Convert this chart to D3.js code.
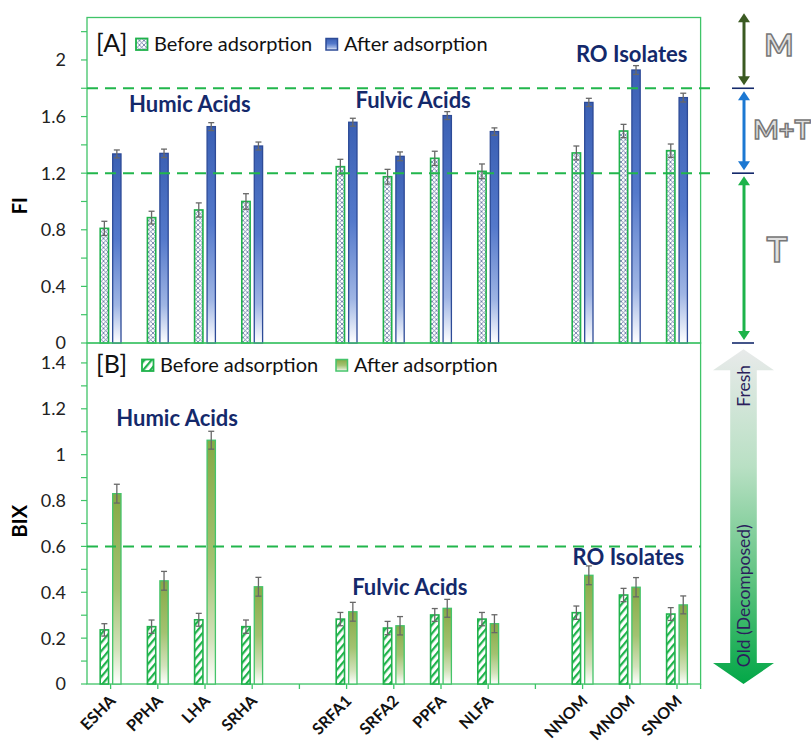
<!DOCTYPE html>
<html>
<head>
<meta charset="utf-8">
<script src="https://cdn.jsdelivr.net/npm/d3@7"></script>
<style>
  body { margin: 0; background: #fff; }
  svg { display: block; font-family: Lato, "Open Sans", sans-serif; }
</style>
</head>
<body>
<svg id="chart" width="811" height="746"></svg>
<script>
// Sample slots along the shared x axis (null = spacer between sample groups)
const categories = ["ESHA", "PPHA", "LHA", "SRHA", null, "SRFA1", "SRFA2", "PPFA", "NLFA", null, "NNOM", "MNOM", "SNOM"];

// Fluorescence index (FI)
const fiBefore    = [0.81, 0.886, 0.94, 1.00, null, 1.246, 1.175, 1.305, 1.213, null, 1.343, 1.498, 1.359];
const fiBeforeErr = [0.05, 0.045, 0.05, 0.055, null, 0.052, 0.052, 0.05, 0.052, null, 0.049, 0.047, 0.047];
const fiAfter     = [1.336, 1.34, 1.529, 1.392, null, 1.56, 1.319, 1.607, 1.494, null, 1.70, 1.929, 1.734];
const fiAfterErr  = [0.028, 0.03, 0.028, 0.028, null, 0.028, 0.031, 0.028, 0.026, null, 0.029, 0.031, 0.031];

// Biological index (BIX)
const bixBefore    = [0.236, 0.25, 0.28, 0.25, null, 0.283, 0.244, 0.301, 0.283, null, 0.311, 0.388, 0.305];
const bixBeforeErr = [0.027, 0.029, 0.028, 0.029, null, 0.029, 0.029, 0.028, 0.029, null, 0.029, 0.029, 0.028];
const bixAfter     = [0.83, 0.45, 1.063, 0.424, null, 0.315, 0.254, 0.33, 0.263, null, 0.474, 0.422, 0.345];
const bixAfterErr  = [0.041, 0.041, 0.039, 0.041, null, 0.041, 0.04, 0.039, 0.039, null, 0.041, 0.042, 0.039];

const fiTicks = [0, 0.4, 0.8, 1.2, 1.6, 2];
const fiMinorTicks = [0.2, 0.6, 1.0, 1.4, 1.8, 2.2];
const bixTicks = [0, 0.2, 0.4, 0.6, 0.8, 1, 1.2, 1.4];
const bixMinorTicks = [0.1, 0.3, 0.5, 0.7, 0.9, 1.1, 1.3];

const fiThresholds = [1.2, 1.8];
const bixThresholds = [0.6];
const groupNames = ["Humic Acids", "Fulvic Acids", "RO Isolates"];
const seriesLabels = ["Before adsorption", "After adsorption"];
const fiZones = ["M", "M+T", "T"];
const bixTrend = ["Fresh", "Old (Decomposed)"];

const svg = d3.select("#chart");
const frameColor = "#3fc468";
const hatchGreen = "#1fb24b";
const navy = "#14296b";
const errColor = "#686868";

const left = 87, right = 700.6;
const x = d3.scaleBand().domain(d3.range(categories.length)).range([left, right]);
const xs = d3.scaleBand().domain(["before", "after"]).range([-10.4, 10.4]).paddingInner(0.333);
const xc = i => left + x.step() * (i + 0.5);

const yFI = d3.scaleLinear().domain([0, 2.3]).range([343, 17.5]);
const yBIX = d3.scaleLinear().domain([0, 1.5]).range([684, 340]);

// ---------- defs: patterns & gradients ----------
const defs = svg.append("defs");

const xh = defs.append("pattern").attr("id", "xhatch")
  .attr("width", 4.5).attr("height", 4.5).attr("patternUnits", "userSpaceOnUse");
xh.append("rect").attr("width", 4.5).attr("height", 4.5).attr("fill", "#fff");
xh.append("path").attr("d", "M0,0L4.5,4.5M4.5,0L0,4.5")
  .attr("stroke", "#56679a").attr("stroke-width", 0.75);

const dg = defs.append("pattern").attr("id", "diag")
  .attr("width", 5.5).attr("height", 5.5).attr("patternUnits", "userSpaceOnUse")
  .attr("patternTransform", "rotate(40)");
dg.append("rect").attr("width", 5.5).attr("height", 5.5).attr("fill", "#fff");
dg.append("rect").attr("width", 2.2).attr("height", 5.5).attr("fill", hatchGreen);

function vGrad(id, stops) {
  const g = defs.append("linearGradient").attr("id", id)
    .attr("x1", 0).attr("y1", 0).attr("x2", 0).attr("y2", 1);
  stops.forEach(([o, c]) => g.append("stop").attr("offset", o).attr("stop-color", c));
}
vGrad("blueGrad", [[0, "#3b60b4"], [0.45, "#5479cb"], [0.8, "#9fb5e4"], [1, "#ffffff"]]);
vGrad("greenGrad", [[0, "#86a946"], [0.5, "#a3c271"], [0.82, "#d3e2bb"], [1, "#ffffff"]]);
vGrad("trendGrad", [[0, "#e8eaea"], [0.35, "#b9e0c4"], [0.7, "#5cc27e"], [1, "#03a747"]]);

// ---------- panels ----------
function panel(cfg) {
  const { y, before, beforeErr, after, afterErr, ticks, minor, bottom, top,
          beforeFill, beforeStroke, afterFill, afterStroke, thresholds, dashEnd } = cfg;
  const g = svg.append("g");

  // frame
  g.append("rect").attr("x", left).attr("y", top).attr("width", right - left).attr("height", bottom - top)
    .attr("fill", "none").attr("stroke", frameColor).attr("stroke-width", 1.3);

  // y ticks
  g.selectAll(".tk").data(ticks.concat(minor)).join("line")
    .attr("x1", left - 6).attr("x2", left).attr("y1", d => y(d)).attr("y2", d => y(d))
    .attr("stroke", frameColor).attr("stroke-width", 1.2);
  g.selectAll(".tl").data(ticks).join("text")
    .attr("x", left - 21).attr("y", d => y(d)).attr("dy", "0.36em")
    .attr("text-anchor", "end").attr("font-size", 18).attr("fill", "#222")
    .text(d => d3.format("~g")(d));

  const idx = d3.range(categories.length).filter(i => categories[i] !== null);

  // bars
  g.selectAll(".bb").data(idx).join("rect")
    .attr("x", i => xc(i) + xs("before")).attr("width", xs.bandwidth())
    .attr("y", i => y(before[i])).attr("height", i => y(0) - y(before[i]))
    .attr("fill", beforeFill).attr("stroke", beforeStroke).attr("stroke-width", 1.6);
  g.selectAll(".ab").data(idx).join("rect")
    .attr("x", i => xc(i) + xs("after")).attr("width", xs.bandwidth())
    .attr("y", i => y(after[i])).attr("height", i => y(0) - y(after[i]))
    .attr("fill", afterFill).attr("stroke", afterStroke).attr("stroke-width", 1.3);

  // error bars
  const errs = [];
  idx.forEach(i => {
    errs.push({ cx: xc(i) + xs("before") + xs.bandwidth() / 2, v: before[i], e: beforeErr[i] });
    errs.push({ cx: xc(i) + xs("after") + xs.bandwidth() / 2, v: after[i], e: afterErr[i] });
  });
  const eg = g.selectAll(".eb").data(errs).join("g").attr("stroke", errColor).attr("stroke-width", 1.3);
  eg.append("line").attr("x1", d => d.cx).attr("x2", d => d.cx)
    .attr("y1", d => y(d.v - d.e)).attr("y2", d => y(d.v + d.e));
  eg.append("line").attr("x1", d => d.cx - 3).attr("x2", d => d.cx + 3)
    .attr("y1", d => y(d.v + d.e)).attr("y2", d => y(d.v + d.e));
  eg.append("line").attr("x1", d => d.cx - 3).attr("x2", d => d.cx + 3)
    .attr("y1", d => y(d.v - d.e)).attr("y2", d => y(d.v - d.e));

  // threshold lines
  g.selectAll(".th").data(thresholds).join("line")
    .attr("x1", left).attr("x2", dashEnd).attr("y1", d => y(d)).attr("y2", d => y(d))
    .attr("stroke", "#22b64c").attr("stroke-width", 2).attr("stroke-dasharray", "11,7");
  return g;
}

panel({
  y: yFI, before: fiBefore, beforeErr: fiBeforeErr, after: fiAfter, afterErr: fiAfterErr,
  ticks: fiTicks, minor: fiMinorTicks, top: yFI(2.3), bottom: yFI(0),
  beforeFill: "url(#xhatch)", beforeStroke: hatchGreen,
  afterFill: "url(#blueGrad)", afterStroke: "#2d4b97",
  thresholds: fiThresholds, dashEnd: 714
});
const gB = panel({
  y: yBIX, before: bixBefore, beforeErr: bixBeforeErr, after: bixAfter, afterErr: bixAfterErr,
  ticks: bixTicks, minor: bixMinorTicks, top: yFI(0), bottom: yBIX(0),
  beforeFill: "url(#diag)", beforeStroke: hatchGreen,
  afterFill: "url(#greenGrad)", afterStroke: "#45c46a",
  thresholds: bixThresholds, dashEnd: right
});

// bottom x axis ticks at category centres
const xTickIdx = d3.range(categories.length);
gB.selectAll(".xt").data(xTickIdx).join("line")
  .attr("x1", i => xc(i)).attr("x2", i => xc(i)).attr("y1", yBIX(0)).attr("y2", yBIX(0) + 5)
  .attr("stroke", frameColor).attr("stroke-width", 1.3);
gB.append("line").attr("x1", right).attr("x2", right).attr("y1", yBIX(0)).attr("y2", yBIX(0) + 5)
  .attr("stroke", frameColor).attr("stroke-width", 1.3);

// category labels
svg.selectAll(".xl").data(xTickIdx.filter(i => categories[i] !== null)).join("text")
  .attr("transform", i => `translate(${xc(i) + 6},${yBIX(0) + 18}) rotate(-45)`)
  .attr("text-anchor", "end").attr("font-size", 16).attr("font-weight", 700).attr("fill", "#111")
  .text(i => categories[i]);

// axis titles
svg.append("text").attr("transform", `translate(27,${yFI(0.97)}) rotate(-90)`)
  .attr("text-anchor", "middle").attr("font-size", 20).attr("font-weight", 700).text("FI");
svg.append("text").attr("transform", `translate(27,${yBIX(0.71)}) rotate(-90)`)
  .attr("text-anchor", "middle").attr("font-size", 20).attr("font-weight", 700).text("BIX");

// group labels
const fiGroupPos = [[1.68, 1.632], [6.41, 1.661], [11.04, 1.988]];
const bixGroupPos = [[1.41, 1.123], [6.34, 0.388], [10.97, 0.519]];
function groupLabels(pos, y) {
  svg.append("g").selectAll("text").data(groupNames).join("text")
    .attr("x", (d, k) => xc(pos[k][0])).attr("y", (d, k) => y(pos[k][1]))
    .attr("text-anchor", "middle").attr("font-size", 22).attr("font-weight", 700).attr("fill", navy)
    .text(d => d);
}
groupLabels(fiGroupPos, yFI);
groupLabels(bixGroupPos, yBIX);

// legends
function legend(tag, ty, beforeFill, beforeStroke, afterFill, afterStroke, x1, x2) {
  const g = svg.append("g");
  g.append("text").attr("x", 96).attr("y", ty + 1).attr("font-size", 25).attr("fill", "#111").text(tag);
  g.append("rect").attr("x", x1).attr("y", ty - 12.5).attr("width", 11.5).attr("height", 11.5)
    .attr("fill", beforeFill).attr("stroke", beforeStroke).attr("stroke-width", 1.8);
  g.append("text").attr("x", x1 + 18).attr("y", ty).attr("font-size", 20).attr("fill", "#111").text(seriesLabels[0]);
  g.append("rect").attr("x", x2).attr("y", ty - 12.5).attr("width", 11.5).attr("height", 11.5)
    .attr("fill", afterFill).attr("stroke", afterStroke).attr("stroke-width", 1.5);
  g.append("text").attr("x", x2 + 18).attr("y", ty).attr("font-size", 20).attr("fill", "#111").text(seriesLabels[1]);
}
legend("[A]", 51, "url(#xhatch)", hatchGreen, "url(#blueGrad)", "#2d4b97", 136, 326);
legend("[B]", 372, "url(#diag)", hatchGreen, "url(#greenGrad)", "#45c46a", 142, 336);

// ---------- FI zone annotations ----------
const ax = 744;
const ann = svg.append("g");
function dblArrow(y1, y2, color) {
  const h = 9, w = 6;
  ann.append("line").attr("x1", ax).attr("x2", ax).attr("y1", y1 + h - 1).attr("y2", y2 - h + 1)
    .attr("stroke", color).attr("stroke-width", 3);
  ann.append("path").attr("d", `M${ax},${y1}L${ax + w},${y1 + h}L${ax - w},${y1 + h}Z`).attr("fill", color);
  ann.append("path").attr("d", `M${ax},${y2}L${ax + w},${y2 - h}L${ax - w},${y2 - h}Z`).attr("fill", color);
}
dblArrow(yFI(2.33), yFI(1.8) - 3, "#3b5a22");
dblArrow(yFI(1.8) + 3, yFI(1.2) - 3, "#1c78d2");
dblArrow(yFI(1.2) + 3, yFI(0) - 3, "#1db34a");
ann.selectAll(".zt").data([1.8, 1.2, 0]).join("line")
  .attr("x1", ax - 12).attr("x2", ax + 10).attr("y1", d => yFI(d)).attr("y2", d => yFI(d))
  .attr("stroke", navy).attr("stroke-width", 1.6);

const zonePos = [[779, 2.03, 31], [782, 1.44, 27], [777, 0.57, 35]];
ann.selectAll(".zl").data(fiZones).join("text")
  .attr("x", (d, k) => zonePos[k][0]).attr("y", (d, k) => yFI(zonePos[k][1]))
  .attr("text-anchor", "middle").attr("font-size", (d, k) => zonePos[k][2]).attr("font-weight", 700)
  .attr("fill", "#e0e0e0").attr("stroke", "#777").attr("stroke-width", 1.5)
  .text(d => d);

// ---------- BIX trend arrow ----------
const bx = 743.5, yt = yBIX(1.46), yb = yBIX(0);
const hw = 30.5, sw = 13.3, hh = 21;
svg.append("path")
  .attr("d", `M${bx},${yt}L${bx + hw},${yt + hh}L${bx + sw},${yt + hh}L${bx + sw},${yb - hh}L${bx + hw},${yb - hh}` +
             `L${bx},${yb}L${bx - hw},${yb - hh}L${bx - sw},${yb - hh}L${bx - sw},${yt + hh}L${bx - hw},${yt + hh}Z`)
  .attr("fill", "url(#trendGrad)");
svg.append("text").attr("transform", `translate(${bx},${yBIX(1.3)}) rotate(-90)`)
  .attr("text-anchor", "middle").attr("dominant-baseline", "central")
  .attr("font-size", 17.5).attr("fill", "#2b1f5c").text(bixTrend[0]);
svg.append("text").attr("transform", `translate(${bx},${yBIX(0.385)}) rotate(-90)`)
  .attr("text-anchor", "middle").attr("dominant-baseline", "central")
  .attr("font-size", 17.5).attr("fill", "#2b1f5c").text(bixTrend[1]);
</script>
</body>
</html>
